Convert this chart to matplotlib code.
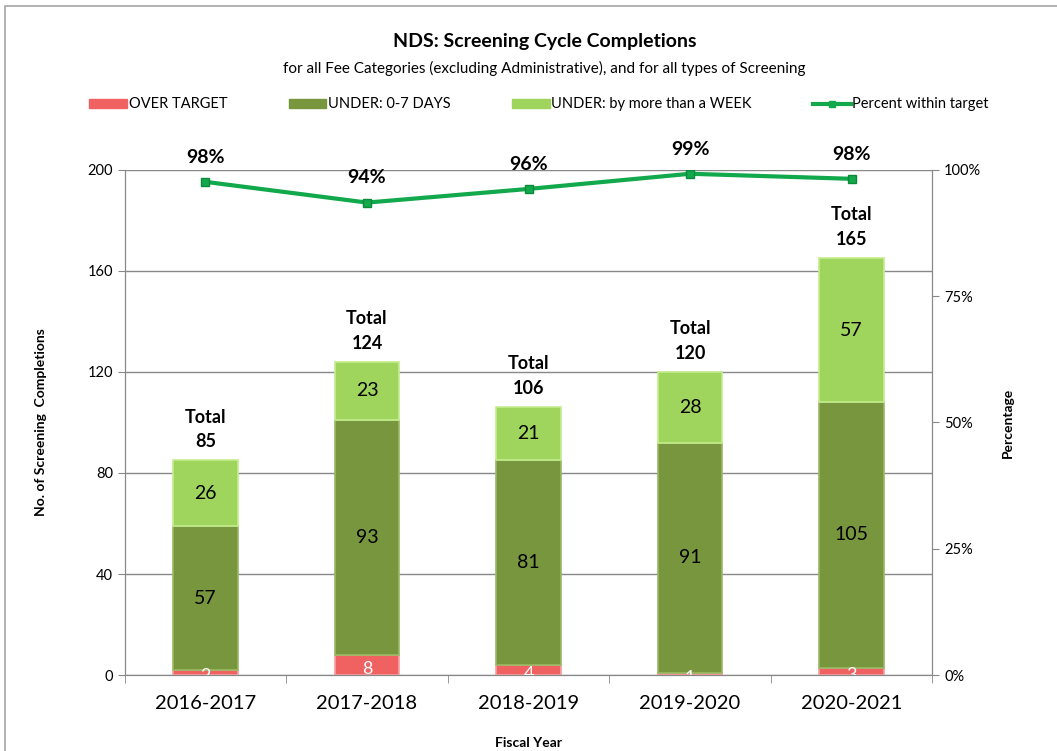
import numpy as np
import matplotlib.pyplot as plt
from matplotlib.patches import Rectangle

plt.rcParams["font.family"] = ["Lato", "DejaVu Sans"]

# DATA
years      = ["2016-2017", "2017-2018", "2018-2019", "2019-2020", "2020-2021"]
over       = [2, 8, 4, 1, 3]
under_0_7  = [57, 93, 81, 91, 105]
under_week = [26, 23, 21, 28, 57]
totals     = [85, 124, 106, 120, 165]
pct_within = [97.6, 93.5, 96.2, 99.2, 98.2]

RED   = "#f06262"
DARK  = "#77963d"
LIGHT = "#9fd55c"
LINE  = "#12a84c"

fig = plt.figure(figsize=(10.57, 7.51), dpi=100)
ax = fig.add_axes([0.118, 0.101, 0.764, 0.673])
ax2 = ax.twinx()

# outer chart frame
fig.patches.append(Rectangle((5 / 1057, -0.05), 1.1, 1 - 6 / 751 + 0.05,
                             transform=fig.transFigure, fill=False,
                             edgecolor="#a6a6a6", linewidth=1.2))

x = np.arange(len(years))
w = 0.40
b1 = np.array(over)
b2 = b1 + np.array(under_0_7)

ax.bar(x, over, w, color=RED, edgecolor="#f8a0a0", linewidth=1.2, zorder=3)
ax.bar(x, under_0_7, w, bottom=b1, color=DARK, edgecolor="#9ab863", linewidth=1.2, zorder=3)
ax.bar(x, under_week, w, bottom=b2, color=LIGHT, edgecolor="#c3ec8e", linewidth=1.2, zorder=3)

for i in range(len(years)):
    ax.text(x[i], over[i] / 2 - 1.5, str(over[i]), ha="center", va="center",
            fontsize=13, color="white", zorder=4)
    ax.text(x[i], b1[i] + under_0_7[i] / 2, str(under_0_7[i]), ha="center",
            va="center", fontsize=14, zorder=4)
    ax.text(x[i], b2[i] + under_week[i] / 2, str(under_week[i]), ha="center",
            va="center", fontsize=14, zorder=4)
    ax.text(x[i], totals[i] + 4, f"Total\n{totals[i]}", ha="center", va="bottom",
            fontsize=13, fontweight="bold", linespacing=1.55, zorder=4)

ax.set_ylim(0, 200)
ax.set_yticks(range(0, 201, 40))
ax.set_xlim(-0.5, len(years) - 0.5)
ax.set_xticks(x)
ax.set_xticklabels(years, fontsize=14.5)
ax.set_xticks(np.arange(-0.5, len(years)), minor=True)
ax.tick_params(axis="x", which="major", length=0, pad=14)
ax.tick_params(axis="x", which="minor", length=6, color="#888888")
ax.tick_params(axis="y", labelsize=10.5, length=5, color="#888888")
ax.grid(axis="y", color="#888888", linewidth=1, zorder=0)
ax.set_axisbelow(True)
ax.set_xlabel("Fiscal Year", fontsize=10, fontweight="bold", labelpad=18)
ax.set_ylabel("No. of Screening  Completions", fontsize=10, fontweight="bold", labelpad=29)

ax2.plot(x, pct_within, color=LINE, linewidth=3, marker="s", markersize=6,
         markerfacecolor=LINE, markeredgecolor="#0b8a3a", zorder=5)
for i in range(len(years)):
    ax2.text(x[i], pct_within[i] + 3.2, f"{round(pct_within[i])}%", ha="center",
             va="bottom", fontsize=14, fontweight="bold")
ax2.set_ylim(0, 100)
ax2.set_yticks(range(0, 101, 25))
ax2.set_yticklabels([f"{v}%" for v in range(0, 101, 25)])
ax2.tick_params(axis="y", labelsize=10.5, length=5, color="#888888")
ax2.set_ylabel("Percentage", fontsize=10, fontweight="bold", labelpad=15)

for a in (ax, ax2):
    a.spines["top"].set_visible(False)
    for s in ("left", "right", "bottom"):
        a.spines[s].set_color("#888888")

fig.text(0.515, 0.938, "NDS: Screening Cycle Completions", ha="center",
         fontsize=14, fontweight="bold")
fig.text(0.515, 0.903, "for all Fee Categories (excluding Administrative), and for all types of Screening",
         ha="center", fontsize=11)

handles = [
    Rectangle((0, 0), 1, 1, color=RED),
    Rectangle((0, 0), 1, 1, color=DARK),
    Rectangle((0, 0), 1, 1, color=LIGHT),
    plt.Line2D([0], [0], color=LINE, linewidth=3, marker="s", markersize=5),
]
fig.legend(handles, ["OVER TARGET", "UNDER: 0-7 DAYS", "UNDER: by more than a WEEK",
                     "Percent within target"],
           loc="center", bbox_to_anchor=(0.51, 0.861), ncol=4, frameon=False,
           fontsize=10.5, handlelength=2.6, handleheight=0.6, handletextpad=0.1,
           columnspacing=4.2)

fig.savefig("out.png", dpi=100)
